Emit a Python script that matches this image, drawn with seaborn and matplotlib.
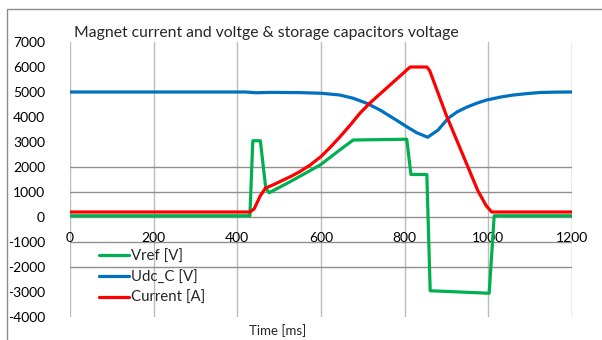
import matplotlib
matplotlib.use("Agg")
import matplotlib.pyplot as plt
import seaborn as sns
import pandas as pd
from matplotlib.patches import Rectangle

# ---- data ----
vref_t = [0, 430, 437, 455, 468, 476, 526, 598, 640, 677, 805, 815, 853, 861, 1002, 1014, 1200]
vref_v = [50, 50, 3050, 3050, 1150, 970, 1410, 2080, 2620, 3080, 3110, 1700, 1700, -2950, -3050, 50, 50]

udc_t = [0, 420, 445, 480, 550, 600, 645, 677, 709, 741, 773, 805, 829, 855, 880, 904, 925, 948, 972, 996, 1030, 1060, 1095, 1124, 1160, 1200]
udc_v = [5000, 5000, 4970, 4985, 4975, 4950, 4880, 4750, 4550, 4280, 3950, 3610, 3370, 3190, 3480, 3950, 4200, 4390, 4550, 4680, 4800, 4880, 4940, 4980, 4995, 5000]

cur_t = [0, 430, 440, 455, 467, 490, 510, 530, 550, 575, 600, 620, 645, 670, 693, 717, 765, 813, 853, 860, 900, 925, 950, 975, 995, 1008, 1200]
cur_v = [200, 200, 320, 850, 1150, 1320, 1480, 1640, 1820, 2090, 2420, 2750, 3200, 3680, 4150, 4560, 5280, 6000, 6000, 5850, 4050, 3050, 2050, 1050, 450, 200, 200]

labels = ["Vref [V]", "Udc_C [V]", "Current [A]"]
colors = ["#00B050", "#0070C0", "#FF0000"]
x_ticks = [0, 200, 400, 600, 800, 1000, 1200]
y_ticks = [-4000, -3000, -2000, -1000, 0, 1000, 2000, 3000, 4000, 5000, 6000, 7000]
h_grid = [-2000, -1000, 0, 1000, 2000]

title = "Magnet current and voltge & storage capacitors voltage"
xlabel = "Time [ms]"

sns.set_style("white")
plt.rcParams['font.family'] = ['Lato', 'DejaVu Sans']

fig = plt.figure(figsize=(6.02, 3.40), dpi=100)
W, H = 602, 340
ax = fig.add_axes([70 / W, 1 - 317 / H, (572 - 70) / W, (317 - 42) / H])

# grid
for xv in x_ticks:
    ax.axvline(xv, color="#a8a8a8" if xv == x_ticks[-1] else "#bcbcbc", lw=1.0, zorder=0)
for yv in h_grid:
    ax.axhline(yv, color="#8f8f8f", lw=1.0, zorder=0)

series = [(vref_t, vref_v), (udc_t, udc_v), (cur_t, cur_v)]
for (t, v), lab, c in zip(series, labels, colors):
    df = pd.DataFrame({"t": t, "v": v})
    sns.lineplot(data=df, x="t", y="v", ax=ax, color=c, lw=2.3, label=lab, zorder=3)

ax.set_xlim(0, 1200)
ax.set_ylim(-4000, 7000)
ax.set_xticks(x_ticks)
ax.set_yticks(y_ticks)
ax.set_xticklabels([str(v) for v in x_ticks])
ax.set_yticklabels([str(v) for v in y_ticks])
for s in ax.spines.values():
    s.set_visible(False)
ax.spines['bottom'].set_position(('data', 0))
ax.tick_params(axis='x', length=0, pad=11, labelsize=10, colors="#000000")
ax.tick_params(axis='y', length=0, pad=18, labelsize=10, colors="#000000")
ax.set_xlabel("")
ax.set_ylabel("")

leg = ax.legend(loc="upper left", bbox_to_anchor=(0.058, 0.245), frameon=False,
                handlelength=2.0, handletextpad=0.15, labelspacing=0.45,
                borderaxespad=0, borderpad=0, fontsize=10.8)

fig.text(266 / W, 1 - 33 / H, title, ha="center", va="center", fontsize=11.3)
fig.text(278 / W, 1 - 331 / H, xlabel, ha="center", va="center", fontsize=9.5)

# outer frame
fig.patches.append(Rectangle((7 / W, -0.1), 1.2, 1 - 9 / H + 0.1, transform=fig.transFigure,
                             fill=False, edgecolor="#8c8c8c", lw=1.0))

fig.savefig("out.png", dpi=100)
